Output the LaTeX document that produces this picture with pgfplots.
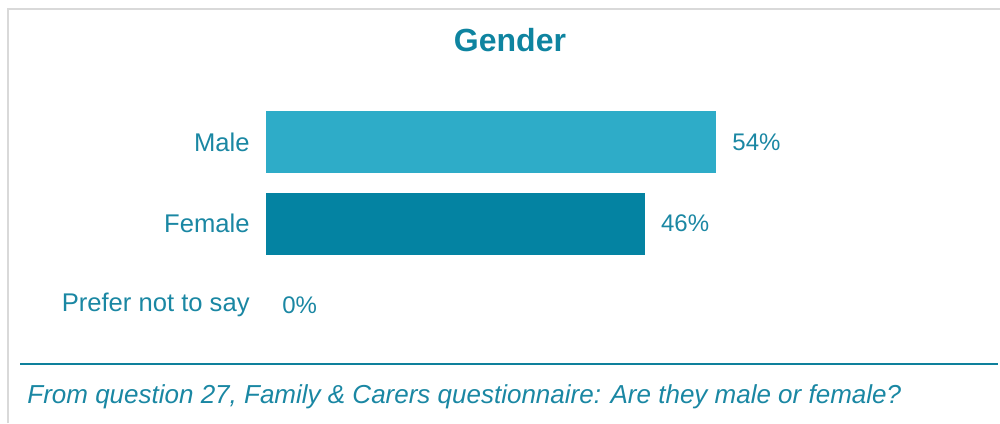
\documentclass[border=0pt]{standalone}
\usepackage{pgfplots}
\pgfplotsset{compat=1.18}
\usepackage{fontspec}
\setmainfont{Liberation Sans}
\definecolor{maleblue}{HTML}{2EACC8}
\definecolor{femaleblue}{HTML}{0483A2}
\definecolor{txtteal}{HTML}{1A87A3}
\definecolor{titleteal}{HTML}{0E84A0}
\definecolor{framegray}{HTML}{D9D9D9}
\definecolor{lineteal}{HTML}{0E809C}
\begin{document}
\begin{tikzpicture}
\useasboundingbox (0,0) rectangle (500pt,211.5pt);
\draw[framegray, line width=1pt] (4pt,0) -- (4pt,207pt) -- (500pt,207pt);
\draw[lineteal, line width=1pt] (10pt,29.5pt) -- (499pt,29.5pt);
\node[font=\fontsize{16}{19}\selectfont\bfseries, text=titleteal] at (255pt,191.5pt) {Gender};
\node[anchor=west, inner sep=0pt, font=\fontsize{13}{15}\selectfont\itshape, text=txtteal] at (13.5pt,13pt) {From question 27, Family \& Carers questionnaire: Are they male or female?};
\begin{axis}[
  at={(133pt,38.6pt)}, anchor=south west,
  scale only axis, width=250pt, height=122.25pt,
  xbar, bar width=31pt, bar shift=0pt,
  xmin=0, xmax=60.33, ymin=-0.5, ymax=2.5,
  axis line style={draw=none},
  xtick=\empty,
  ytick={0,1,2},
  yticklabels={Prefer not to say, Female, Male},
  major tick length=0pt,
  yticklabel style={font=\fontsize{12.8}{15}\selectfont, text=txtteal, inner sep=0pt, xshift=-8pt},
  /pgf/number format/assume math mode=true,
  /pgf/number format/fixed, /pgf/number format/precision=0,
  nodes near coords={\pgfmathprintnumber{\pgfplotspointmeta}\%},
  nodes near coords style={anchor=west, inner sep=0pt, xshift=8pt, font=\fontsize{12}{14}\selectfont, text=txtteal},
  clip=false,
]
\addplot[fill=maleblue, draw=none] coordinates {(54.3,2)};
\addplot[fill=femaleblue, draw=none] coordinates {(45.7,1)};
\addplot[fill=none, draw=none] coordinates {(0,0)};
\end{axis}
\end{tikzpicture}
\end{document}
